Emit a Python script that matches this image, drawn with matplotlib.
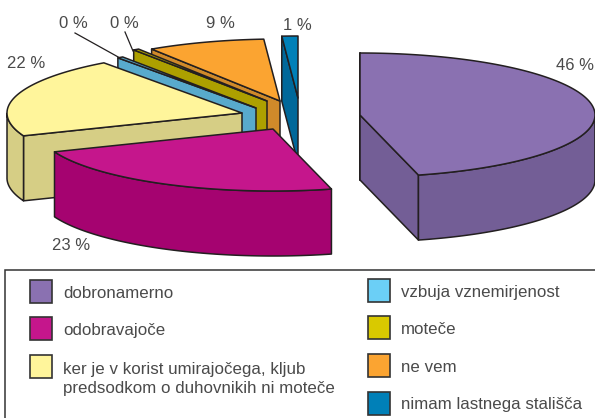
"""Exploded 3D pie with a boxed two column legend."""
import numpy as np
import matplotlib
matplotlib.use('Agg')
import matplotlib.pyplot as plt
from matplotlib.patches import Polygon, Rectangle

categories = ['dobronamerno', 'odobravajoče',
              'ker je v korist umirajočega, kljub\npredsodkom o duhovnikih ni moteče',
              'vzbuja vznemirjenost', 'moteče', 'ne vem', 'nimam lastnega stališča']
values = [46.0, 23.0, 21.0, 0.4, 0.4, 8.1, 1.1]
pct_labels = ['46 %', '23 %', '22 %', '0 %', '0 %', '9 %', '1 %']

top_colors = ['#8A71B1', '#C5168C', '#FFF59B', '#58AACC', '#ADA000', '#FBA431', '#0080B8']
side_colors = ['#735E96', '#A50370', '#D6CE85', '#58AACC', '#ADA000', '#D08A2A', '#00689A']
legend_colors = ['#8A71B1', '#C5168C', '#FFF59B', '#6BCFF6', '#D9C900', '#FBA431', '#0080B8']

# pie geometry, in pixels
RX, RY, DEPTH = 235, 62, 65
CENTER = (300, 112)
explode_dx = [60, -27, -58, -44, -33, -20, -2]
explode_dy = [3, 17, 1, -4, -11, -11, -14]
draw_order = [5, 6, 4, 3, 2, 1, 0]

EDGE = '#231F20'
TEXT = '#4A4A4A'
FONT = 'Liberation Sans'

plt.rcParams['font.family'] = FONT

fig = plt.figure(figsize=(5.95, 4.18), dpi=100)
ax = fig.add_axes([0, 0, 1, 1])
ax.set_xlim(0, 595)
ax.set_ylim(418, 0)
ax.axis('off')


def rim(cx, cy, t):
    return np.column_stack([cx + RX * np.cos(t), cy - RY * np.sin(t)])


def face(pts, color, z):
    ax.add_patch(Polygon(pts, closed=True, facecolor=color, edgecolor=EDGE,
                         linewidth=1.1, joinstyle='round', zorder=z))


ends = 90 - np.cumsum(values) / sum(values) * 360
starts = np.concatenate([[90], ends[:-1]])

for layer, i in enumerate(draw_order):
    z = 2 + layer
    cx, cy = CENTER[0] + explode_dx[i], CENTER[1] + explode_dy[i]
    t0, t1 = np.radians(starts[i]), np.radians(ends[i])
    apex = np.array([[cx, cy]])
    down = np.array([0, DEPTH])

    # straight cut faces, only those turned towards the viewer
    if np.cos(t0) < 1e-9:
        p = rim(cx, cy, np.array([t0]))
        face(np.vstack([apex, p, p + down, apex + down]), side_colors[i], z)
    if np.cos(t1) > 0:
        p = rim(cx, cy, np.array([t1]))
        face(np.vstack([apex, p, p + down, apex + down]), side_colors[i], z)

    # outer wall on the front half of the rim
    t = np.linspace(t0, t1, 200)
    front = t[np.sin(t) < 0]
    if len(front):
        p = rim(cx, cy, front)
        face(np.vstack([p, (p + down)[::-1]]), side_colors[i], z)

    face(np.vstack([apex, rim(cx, cy, t)]), top_colors[i], z)

# value labels
label_x = [556, 52, 7, 59, 110, 206, 283]
label_y = [65, 245, 63, 24, 24, 24, 25]
for x, y, s in zip(label_x, label_y, pct_labels):
    ax.text(x, y, s, fontsize=12, color=TEXT, ha='left', va='center', zorder=20)

ax.plot([75, 120], [33, 58], color=EDGE, lw=0.9, zorder=1)
ax.plot([125, 133], [32, 51], color=EDGE, lw=0.9, zorder=1)

# legend
ax.add_patch(Rectangle((5, 270), 595, 160, facecolor='white', edgecolor='#333333',
                       linewidth=1.1, zorder=1))
swatch_x = [30, 30, 30, 368, 368, 368, 368]
swatch_y = [280, 317, 355, 279, 316, 354, 392]
text_x = [63, 63, 63, 401, 401, 401, 401]
text_y = [293, 331, 379, 292, 329, 368, 404]
for i, name in enumerate(categories):
    ax.add_patch(Rectangle((swatch_x[i], swatch_y[i]), 22, 23, facecolor=legend_colors[i],
                           edgecolor='#333333', linewidth=1.2, zorder=3))
    ax.text(text_x[i], text_y[i], name, fontsize=12.2, color=TEXT, ha='left', va='center',
            linespacing=1.3, zorder=3)

fig.savefig('out.png', dpi=100)
